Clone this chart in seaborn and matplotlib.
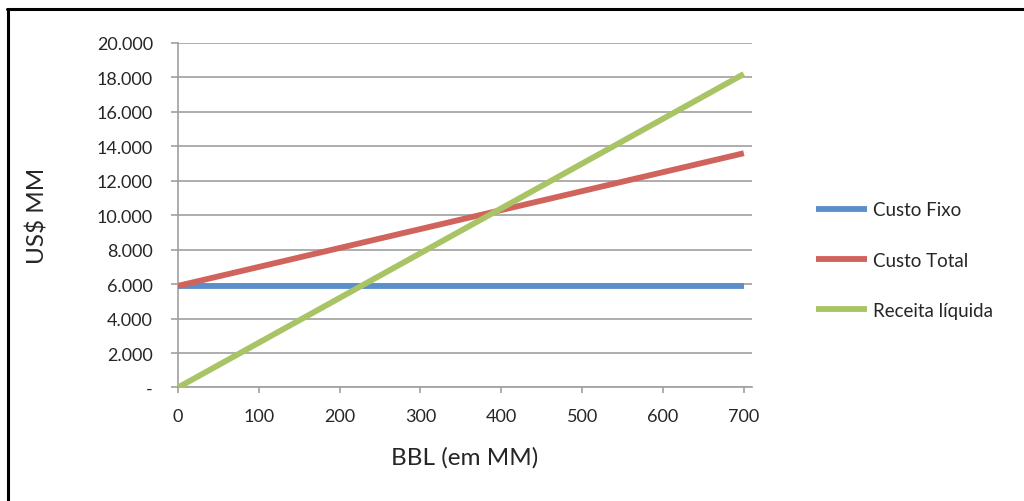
import matplotlib
matplotlib.use("Agg")
import matplotlib.pyplot as plt
from matplotlib.lines import Line2D
import seaborn as sns
import pandas as pd

# Production volume (BBL, in millions)
bbl = [0, 100, 200, 300, 400, 500, 600, 700]

# Series values (US$ MM)
custo_fixo = [5900, 5900, 5900, 5900, 5900, 5900, 5900, 5900]
custo_total = [5900, 7000, 8100, 9200, 10300, 11400, 12500, 13600]
receita_liquida = [0, 2600, 5200, 7800, 10400, 13000, 15600, 18200]

series_names = ["Custo Fixo", "Custo Total", "Receita líquida"]
series_colors = ["#5B8FCA", "#D0635B", "#A8C464"]

y_ticks = [0, 2000, 4000, 6000, 8000, 10000, 12000, 14000, 16000, 18000, 20000]
y_tick_labels = ["-", "2.000", "4.000", "6.000", "8.000", "10.000", "12.000",
                 "14.000", "16.000", "18.000", "20.000"]
x_ticks = [0, 100, 200, 300, 400, 500, 600, 700]
x_tick_labels = ["0", "100", "200", "300", "400", "500", "600", "700"]

df = pd.DataFrame({
    "BBL": bbl * 3,
    "valor": custo_fixo + custo_total + receita_liquida,
    "serie": [series_names[0]] * len(bbl) + [series_names[1]] * len(bbl)
             + [series_names[2]] * len(bbl),
})

sns.set_style("white")
plt.rcParams["font.family"] = ["Lato", "DejaVu Sans"]

fig = plt.figure(figsize=(10.24, 5.02), dpi=100)
ax = fig.add_axes([0.1738, 0.2261, 0.5605, 0.6863])

grid_color = "#A0A0A0"
for yv in y_ticks:
    ax.axhline(yv, color=grid_color, lw=1.2, zorder=0)

sns.lineplot(data=df, x="BBL", y="valor", hue="serie", hue_order=series_names,
             palette=series_colors, linewidth=4.2, ax=ax, legend=False,
             solid_capstyle="butt", zorder=3)

ax.set_xlim(0, 710)
ax.set_ylim(0, 20000)
ax.set_xticks(x_ticks)
ax.set_xticklabels(x_tick_labels)
ax.set_yticks(y_ticks)
ax.set_yticklabels(y_tick_labels)

for side in ["top", "right"]:
    ax.spines[side].set_visible(False)
for side in ["left", "bottom"]:
    ax.spines[side].set_color(grid_color)
    ax.spines[side].set_linewidth(1.2)

ax.tick_params(axis="y", which="major", direction="out", length=5, width=1.2,
               color=grid_color, labelsize=13, pad=13, left=True)
ax.tick_params(axis="x", which="major", direction="out", length=4.5, width=1.2,
               color=grid_color, labelsize=13, pad=10, bottom=True)

ax.set_xlabel("BBL (em MM)", fontsize=17.5)
ax.set_ylabel("US$ MM", fontsize=17.5)
ax.xaxis.set_label_coords(0.5, -0.202)
ax.yaxis.set_label_coords(-0.244, 0.5)
ax.xaxis.label.set_va("center")
ax.yaxis.label.set_va("center")

handles = [Line2D([], [], color=c, lw=4.2, solid_capstyle="butt") for c in series_colors]
fig.legend(handles, series_names, loc="center left",
           bbox_to_anchor=(0.797, 0.480), bbox_transform=fig.transFigure,
           frameon=False, fontsize=13.5, handlelength=2.7, handletextpad=0.33,
           labelspacing=1.78, borderpad=0, borderaxespad=0)

# Frame lines along the top and left edges of the figure
fig.add_artist(Line2D([0.0078, 0.0078], [0.0, 0.980], transform=fig.transFigure,
                      color="black", lw=2.2))
fig.add_artist(Line2D([0.0068, 1.0], [0.980, 0.980], transform=fig.transFigure,
                      color="black", lw=2.2))

fig.savefig("out.png", dpi=100)
